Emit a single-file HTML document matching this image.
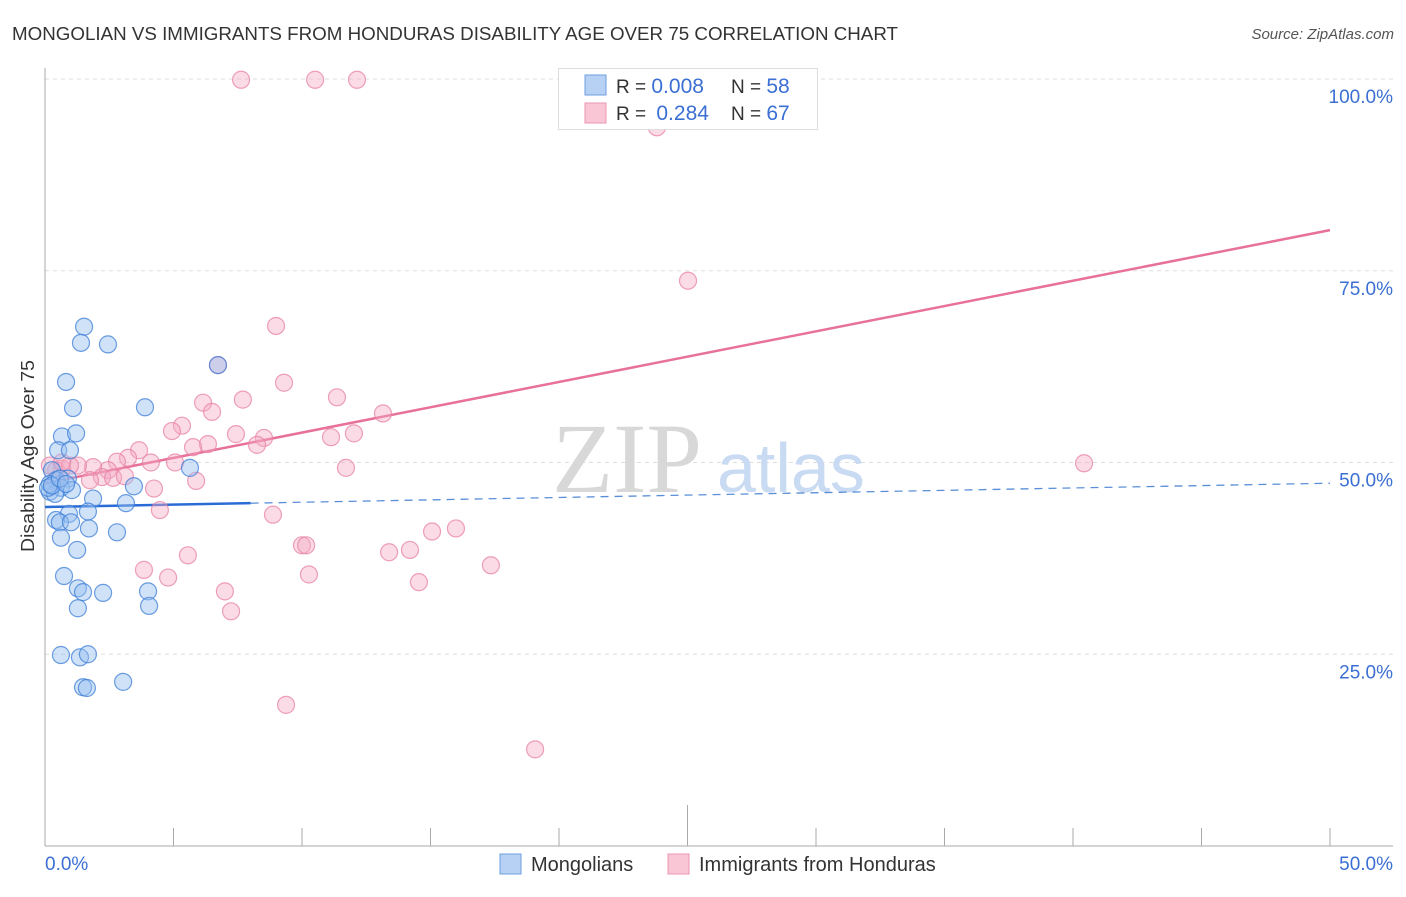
<!DOCTYPE html>
<html><head><meta charset="utf-8">
<style>
body{margin:0;background:#fff;font-family:"Liberation Sans",sans-serif;}
svg text{font-family:"Liberation Sans",sans-serif;}
</style></head>
<body>
<svg id="chart" width="1406" height="892" viewBox="0 0 1406 892" xmlns="http://www.w3.org/2000/svg">
<text x="12" y="40" font-size="18.5" fill="#333" textLength="886" lengthAdjust="spacingAndGlyphs">MONGOLIAN VS IMMIGRANTS FROM HONDURAS DISABILITY AGE OVER 75 CORRELATION CHART</text>
<text x="1394" y="39" font-size="15" fill="#555" font-style="italic" text-anchor="end">Source: ZipAtlas.com</text>
<g id="grid"></g>
<g id="watermark">
<text x="552" y="492" font-size="100" fill="#d8d8d8" style="font-family:'Liberation Serif',serif">ZIP</text>
<text x="717" y="492" font-size="70" fill="#c9daf3">atlas</text>
</g>
<g id="axes"></g>
<g id="trend"></g>
<g id="points"></g>
<text x="-456" y="34" font-size="18" fill="#333" transform="rotate(-90)" text-anchor="middle" textLength="192" lengthAdjust="spacingAndGlyphs">Disability Age Over 75</text>
<text x="45" y="870" font-size="19" fill="#3b6fd4">0.0%</text>
<text x="1393" y="870" font-size="19" fill="#3b6fd4" text-anchor="end">50.0%</text>
<g>
<rect x="558.5" y="68.5" width="259" height="61" fill="#fff" stroke="#ddd"/>
<rect x="585" y="75" width="21" height="20" fill="#b7d1f4" stroke="#6d9ee0"/>
<rect x="585" y="103" width="21" height="20" fill="#f8c6d5" stroke="#eb95b0"/>
<text x="616" y="93" font-size="19" fill="#333">R = <tspan fill="#3b6fd4" font-size="21">0.008</tspan></text>
<text x="731" y="93" font-size="19" fill="#333">N = <tspan fill="#3b6fd4" font-size="21">58</tspan></text>
<text x="616" y="120" font-size="19" fill="#333">R = <tspan fill="#3b6fd4" dx="5" font-size="21">0.284</tspan></text>
<text x="731" y="120" font-size="19" fill="#333">N = <tspan fill="#3b6fd4" font-size="21">67</tspan></text>
</g>
<g>
<rect x="500" y="854" width="21" height="20" fill="#b7d1f4" stroke="#6d9ee0"/>
<text x="531" y="871" font-size="20" fill="#333">Mongolians</text>
<rect x="668" y="854" width="21" height="20" fill="#f8c6d5" stroke="#eb95b0"/>
<text x="699" y="871" font-size="20" fill="#333">Immigrants from Honduras</text>
</g>
</svg>
<script>
const yTicks=[25,50,75,100];
const yTickLabels=["25.0%","50.0%","75.0%","100.0%"];
const xTicks=[0,5,10,15,20,25,30,35,40,45,50];
const blueX=[1.52,1.40,2.45,0.82,1.09,3.89,0.66,1.21,0.51,0.97,6.73,5.64,0.27,0.43,0.89,0.62,0.19,0.39,1.05,3.46,1.87,3.15,1.67,0.93,0.43,0.58,1.01,1.71,2.80,0.62,1.25,0.74,1.28,1.48,2.26,4.01,4.05,1.28,0.62,1.36,1.67,1.48,1.63,3.04,0.19,0.12,0.27,0.58,0.82];
const blueY=[67.7,65.6,65.4,60.5,57.1,57.2,53.4,53.8,51.6,51.6,62.7,49.3,49.0,47.7,47.9,46.7,46.2,45.9,46.4,46.9,45.3,44.7,43.6,43.3,42.5,42.2,42.2,41.4,40.9,40.2,38.6,35.2,33.6,33.1,33.0,33.2,31.3,31.0,24.9,24.6,25.0,20.7,20.6,21.4,47.2,46.7,47.0,47.9,47.2];
const pinkX=[7.63,10.51,12.14,23.81,25.02,8.99,9.30,6.73,6.15,6.50,7.70,11.36,5.33,4.94,7.43,8.52,13.15,11.13,12.02,6.34,5.76,8.25,3.66,3.23,2.80,4.12,5.06,2.45,1.87,1.28,0.66,0.43,2.22,2.65,3.11,5.88,4.24,11.71,40.43,4.47,8.87,10.0,10.16,5.56,3.85,4.79,10.27,7.00,7.24,13.39,14.20,15.06,15.99,14.55,17.35,9.38,19.07,0.19,0.97,1.75,0.66];
const pinkY=[99.9,99.9,99.9,93.7,73.7,67.8,60.4,62.7,57.8,56.6,58.2,58.5,54.8,54.1,53.7,53.2,56.4,53.3,53.8,52.4,52.0,52.3,51.6,50.6,50.1,50.0,50.0,49.0,49.4,49.6,49.2,49.0,48.1,48.0,48.2,47.6,46.6,49.3,49.9,43.8,43.2,39.2,39.2,37.9,36.0,35.0,35.4,33.2,30.6,38.3,38.6,41.0,41.4,34.4,36.6,18.4,12.6,49.6,49.6,47.7,50.0];
const blueTrend=[44.2,47.3];
const pinkTrend=[47.3,80.3];
const blueSolidEnd=8;
const NS="http://www.w3.org/2000/svg";
const X=v=>45+v*25.7;
const Y=v=>846-v*7.67;
function mk(p,t,a){const e=document.createElementNS(NS,t);for(const k in a)e.setAttribute(k,a[k]);p.appendChild(e);return e;}
const grid=document.getElementById('grid'),axes=document.getElementById('axes');
yTicks.forEach((t,i)=>{
 const l=mk(grid,'line',{x1:45,x2:1393,y1:Y(t),y2:Y(t),stroke:'#ddd','stroke-dasharray':'4,4'});
 
 
 const tx=mk(grid,'text',{x:1393,y:Y(t)+24,'font-size':19,fill:'#3b6fd4','text-anchor':'end'});
 tx.textContent=yTickLabels[i];
 
 
});
mk(axes,'line',{x1:45,x2:45,y1:68,y2:846,stroke:'#aaa'});
mk(axes,'line',{x1:45,x2:1393,y1:846,y2:846,stroke:'#aaa'});
xTicks.forEach(t=>{
 const tk=mk(axes,'line',{x1:X(t),x2:X(t),y1:t===25?805:828,y2:846,stroke:'#aaa'});
 
 
});
const tr=document.getElementById('trend');
const bs=mk(tr,'line',{x1:X(0),y1:Y(blueTrend[0]),x2:X(blueSolidEnd),y2:Y(blueTrend[0]+(blueTrend[1]-blueTrend[0])*blueSolidEnd/50),stroke:'#2a6bd6','stroke-width':2.5});


const bd=mk(tr,'line',{x1:X(blueSolidEnd),y1:Y(blueTrend[0]+(blueTrend[1]-blueTrend[0])*blueSolidEnd/50),x2:X(50),y2:Y(blueTrend[1]),stroke:'#5a8fd8','stroke-width':1.3,'stroke-dasharray':'8,6'});


const pt=mk(tr,'line',{x1:X(0),y1:Y(pinkTrend[0]),x2:X(50),y2:Y(pinkTrend[1]),stroke:'#e8719a','stroke-width':2.5});


const pg=document.getElementById('points');
pinkX.forEach((x,i)=>{
 const c=mk(pg,'circle',{cx:X(x),cy:Y(pinkY[i]),r:8.5,fill:'rgba(244,170,195,0.42)',stroke:'rgba(232,130,165,0.75)','stroke-width':1.2});
 
 
});
blueX.forEach((x,i)=>{
 const c=mk(pg,'circle',{cx:X(x),cy:Y(blueY[i]),r:8.5,fill:'rgba(150,190,240,0.45)',stroke:'rgba(60,125,215,0.75)','stroke-width':1.2});
 
 
});
</script>
</body></html>
